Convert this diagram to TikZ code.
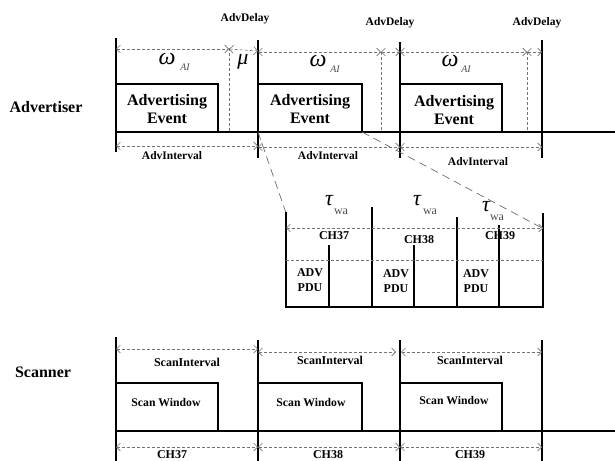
\documentclass[tikz,border=0pt]{standalone}
\usepackage{fontspec}
\setmainfont{Liberation Serif}
\usetikzlibrary{arrows.meta}
\begin{document}
\begin{tikzpicture}[x=1pt,y=-1pt,
  solidln/.style={line width=1.4pt, black},
  dimln/.style={line width=0.6pt, gray!90!black, dash pattern=on 3pt off 2pt},
  dimarr/.style={dimln, {Straight Barb[length=4pt,width=8pt]}-{Straight Barb[length=4pt,width=8pt]}},
  zoomln/.style={line width=0.7pt, gray!85!black, dash pattern=on 8pt off 5pt},
  lbl/.style={inner sep=0pt, font=\bfseries\fontsize{11.5}{13}\selectfont},
  midlbl/.style={inner sep=0pt, font=\bfseries\fontsize{12}{15}\selectfont, align=center},
  big/.style={inner sep=0pt, font=\bfseries\fontsize{16}{18}\selectfont, align=center},
  greek/.style={inner sep=0pt, font=\itshape\fontsize{24}{24}\selectfont},
  greeks/.style={inner sep=0pt, font=\itshape\fontsize{22}{22}\selectfont},
  sub/.style={inner sep=0pt, font=\itshape\fontsize{10}{10}\selectfont, text=gray!60!black},
  subwa/.style={inner sep=0pt, font=\fontsize{12}{12}\selectfont, text=gray!60!black},
]
\useasboundingbox (0,0) rectangle (615,460);
\clip (0,0) rectangle (615,460);

% ---------------- Advertiser ----------------
\node[big] (adv) at (46,107) {Advertiser};

\coordinate (a0t) at (116,38);  \coordinate (a0b) at (116,152);
\coordinate (a1t) at (258,40);  \coordinate (a1b) at (258,158);
\coordinate (a2t) at (400,42);  \coordinate (a2b) at (400,158);
\coordinate (a3t) at (542,40);  \coordinate (a3b) at (542,158);
\draw[solidln] (a0t) -- (a0b);
\draw[solidln] (a1t) -- (a1b);
\draw[solidln] (a2t) -- (a2b);
\draw[solidln] (a3t) -- (a3b);
\coordinate (abl) at (116,132); \coordinate (abr) at (615,132);
\draw[solidln] (abl) -- (abr);

% event boxes
\draw[solidln] (116,84) -- (218,84) -- (218,132);
\draw[solidln] (258,84) -- (362,84) -- (362,132);
\draw[solidln] (400,84) -- (502,84) -- (502,132);
\node[big] (ev1) at (167,109) {Advertising\\Event};
\node[big] (ev2) at (310,109) {Advertising\\Event};
\node[big] (ev3) at (454,110) {Advertising\\Event};

% AdvDelay dashed verticals
\coordinate (d1t) at (229,48); \coordinate (d1b) at (229,132);
\coordinate (d2t) at (381,52); \coordinate (d2b) at (381,132);
\coordinate (d3t) at (527,52); \coordinate (d3b) at (527,132);
\draw[dimln] (d1t) -- (d1b);
\draw[dimln] (d2t) -- (d2b);
\draw[dimln] (d3t) -- (d3b);

% top dimension arrows
\coordinate (t0) at (116,49);
\coordinate (t1) at (229,49);
\coordinate (t2) at (258,51);
\coordinate (t3) at (258,52);
\coordinate (t4) at (381,52);
\coordinate (t5) at (400,52);
\coordinate (t6) at (527,52);
\coordinate (t7) at (542,52);
\draw[dimarr] (t0) -- (t1);
\draw[dimarr] (t1) -- (t2);
\draw[dimarr] (t3) -- (t4);
\draw[dimarr] (t4) -- (t5);
\draw[dimarr] (t5) -- (t6);
\draw[dimarr] (t6) -- (t7);

\node[lbl] (ad1) at (245,19) {AdvDelay};
\node[lbl] (ad2) at (390,23) {AdvDelay};
\node[lbl] (ad3) at (537,23) {AdvDelay};

\node[greek] (w1) at (167,59) {ω};
\node[sub] (w1s) at (185,67) {AI};
\node[greek] (w2) at (318,61) {ω};
\node[sub] (w2s) at (335,69) {AI};
\node[greek] (w3) at (450,61) {ω};
\node[sub] (w3s) at (466,69) {AI};
\node[greeks] (mu) at (243,62) {μ};

% bottom dimension arrows
\coordinate (b0) at (116,146);
\coordinate (b1) at (258,146);
\coordinate (b2) at (258,147);
\coordinate (b3) at (400,147);
\coordinate (b4) at (400,147);
\coordinate (b5) at (542,147);
\draw[dimarr] (b0) -- (b1);
\draw[dimarr] (b2) -- (b3);
\draw[dimarr] (b4) -- (b5);
\node[lbl] (ai1) at (172,156) {AdvInterval};
\node[lbl] (ai2) at (328,156) {AdvInterval};
\node[lbl] (ai3) at (478,162) {AdvInterval};

% ---------------- zoom detail ----------------
\coordinate (z1a) at (258,132); \coordinate (z1b) at (286,213);
\coordinate (z2a) at (362,132); \coordinate (z2b) at (542,228);
\draw[zoomln] (z1a) -- (z1b);
\draw[zoomln] (z2a) -- (z2b);

\draw[solidln] (286,212) -- (286,307) -- (543,307) -- (543,213);
\draw[solidln] (372,207) -- (372,307);
\draw[solidln] (457,217) -- (457,307);
\draw[solidln] (329,245) -- (329,307);
\draw[solidln] (414,245) -- (414,307);
\draw[solidln] (499,225) -- (499,307);

\coordinate (c0) at (286,228); \coordinate (c1) at (543,228);
\draw[dimarr] (c0) -- (c1);
\coordinate (h0) at (286,260); \coordinate (h1) at (543,260);
\draw[dimln] (h0) -- (h1);

\node[greeks] (tau1) at (329,201) {τ};
\node[subwa] (tau1s) at (341,212) {wa};
\node[greeks] (tau2) at (417,201) {τ};
\node[subwa] (tau2s) at (430,212) {wa};
\node[greeks] (tau3) at (486,207) {τ};
\node[subwa] (tau3s) at (497,218) {wa};

\node[midlbl] (ch37a) at (334,236) {CH37};
\node[midlbl] (ch38a) at (419,240) {CH38};
\node[midlbl] (ch39a) at (500,236) {CH39};

\node[midlbl] (pdu1) at (310,280) {ADV\\PDU};
\node[midlbl] (pdu2) at (396,281) {ADV\\PDU};
\node[midlbl] (pdu3) at (476,281) {ADV\\PDU};

% ---------------- Scanner ----------------
\node[big] (scn) at (43,372) {Scanner};

\draw[solidln] (116,337) -- (116,462);
\draw[solidln] (258,340) -- (258,462);
\draw[solidln] (400,340) -- (400,462);
\draw[solidln] (542,340) -- (542,462);
\coordinate (sbl) at (116,431); \coordinate (sbr) at (615,431);
\draw[solidln] (sbl) -- (sbr);

\draw[solidln] (116,383) -- (218,383) -- (218,431);
\draw[solidln] (258,383) -- (362,383) -- (362,431);
\draw[solidln] (400,383) -- (502,383) -- (502,431);
\node[lbl, font=\bfseries\fontsize{11.7}{13}\selectfont] (sw1) at (166,403) {Scan Window};
\node[lbl, font=\bfseries\fontsize{11.7}{13}\selectfont] (sw2) at (311,403) {Scan Window};
\node[lbl, font=\bfseries\fontsize{11.7}{13}\selectfont] (sw3) at (454,401) {Scan Window};

\coordinate (s0) at (116,349); \coordinate (s1) at (258,349);
\coordinate (s2) at (258,352); \coordinate (s3) at (396,352);
\coordinate (s4) at (401,352); \coordinate (s5) at (542,352);
\draw[dimarr] (s0) -- (s1);
\draw[dimarr] (s2) -- (s3);
\draw[dimarr] (s4) -- (s5);
\node[midlbl] (si1) at (187,362) {ScanInterval};
\node[midlbl] (si2) at (330,360) {ScanInterval};
\node[midlbl] (si3) at (470,360) {ScanInterval};

\coordinate (u0) at (116,447); \coordinate (u1) at (258,447);
\coordinate (u2) at (258,447); \coordinate (u3) at (400,447);
\coordinate (u4) at (400,447); \coordinate (u5) at (542,447);
\draw[dimarr] (u0) -- (u1);
\draw[dimarr] (u2) -- (u3);
\draw[dimarr] (u4) -- (u5);
\node[midlbl, anchor=north] (ch37) at (172,450.5) {CH37};
\node[midlbl, anchor=north] (ch38) at (328,450.5) {CH38};
\node[midlbl, anchor=north] (ch39) at (470,450.5) {CH39};
\end{tikzpicture}
\end{document}
